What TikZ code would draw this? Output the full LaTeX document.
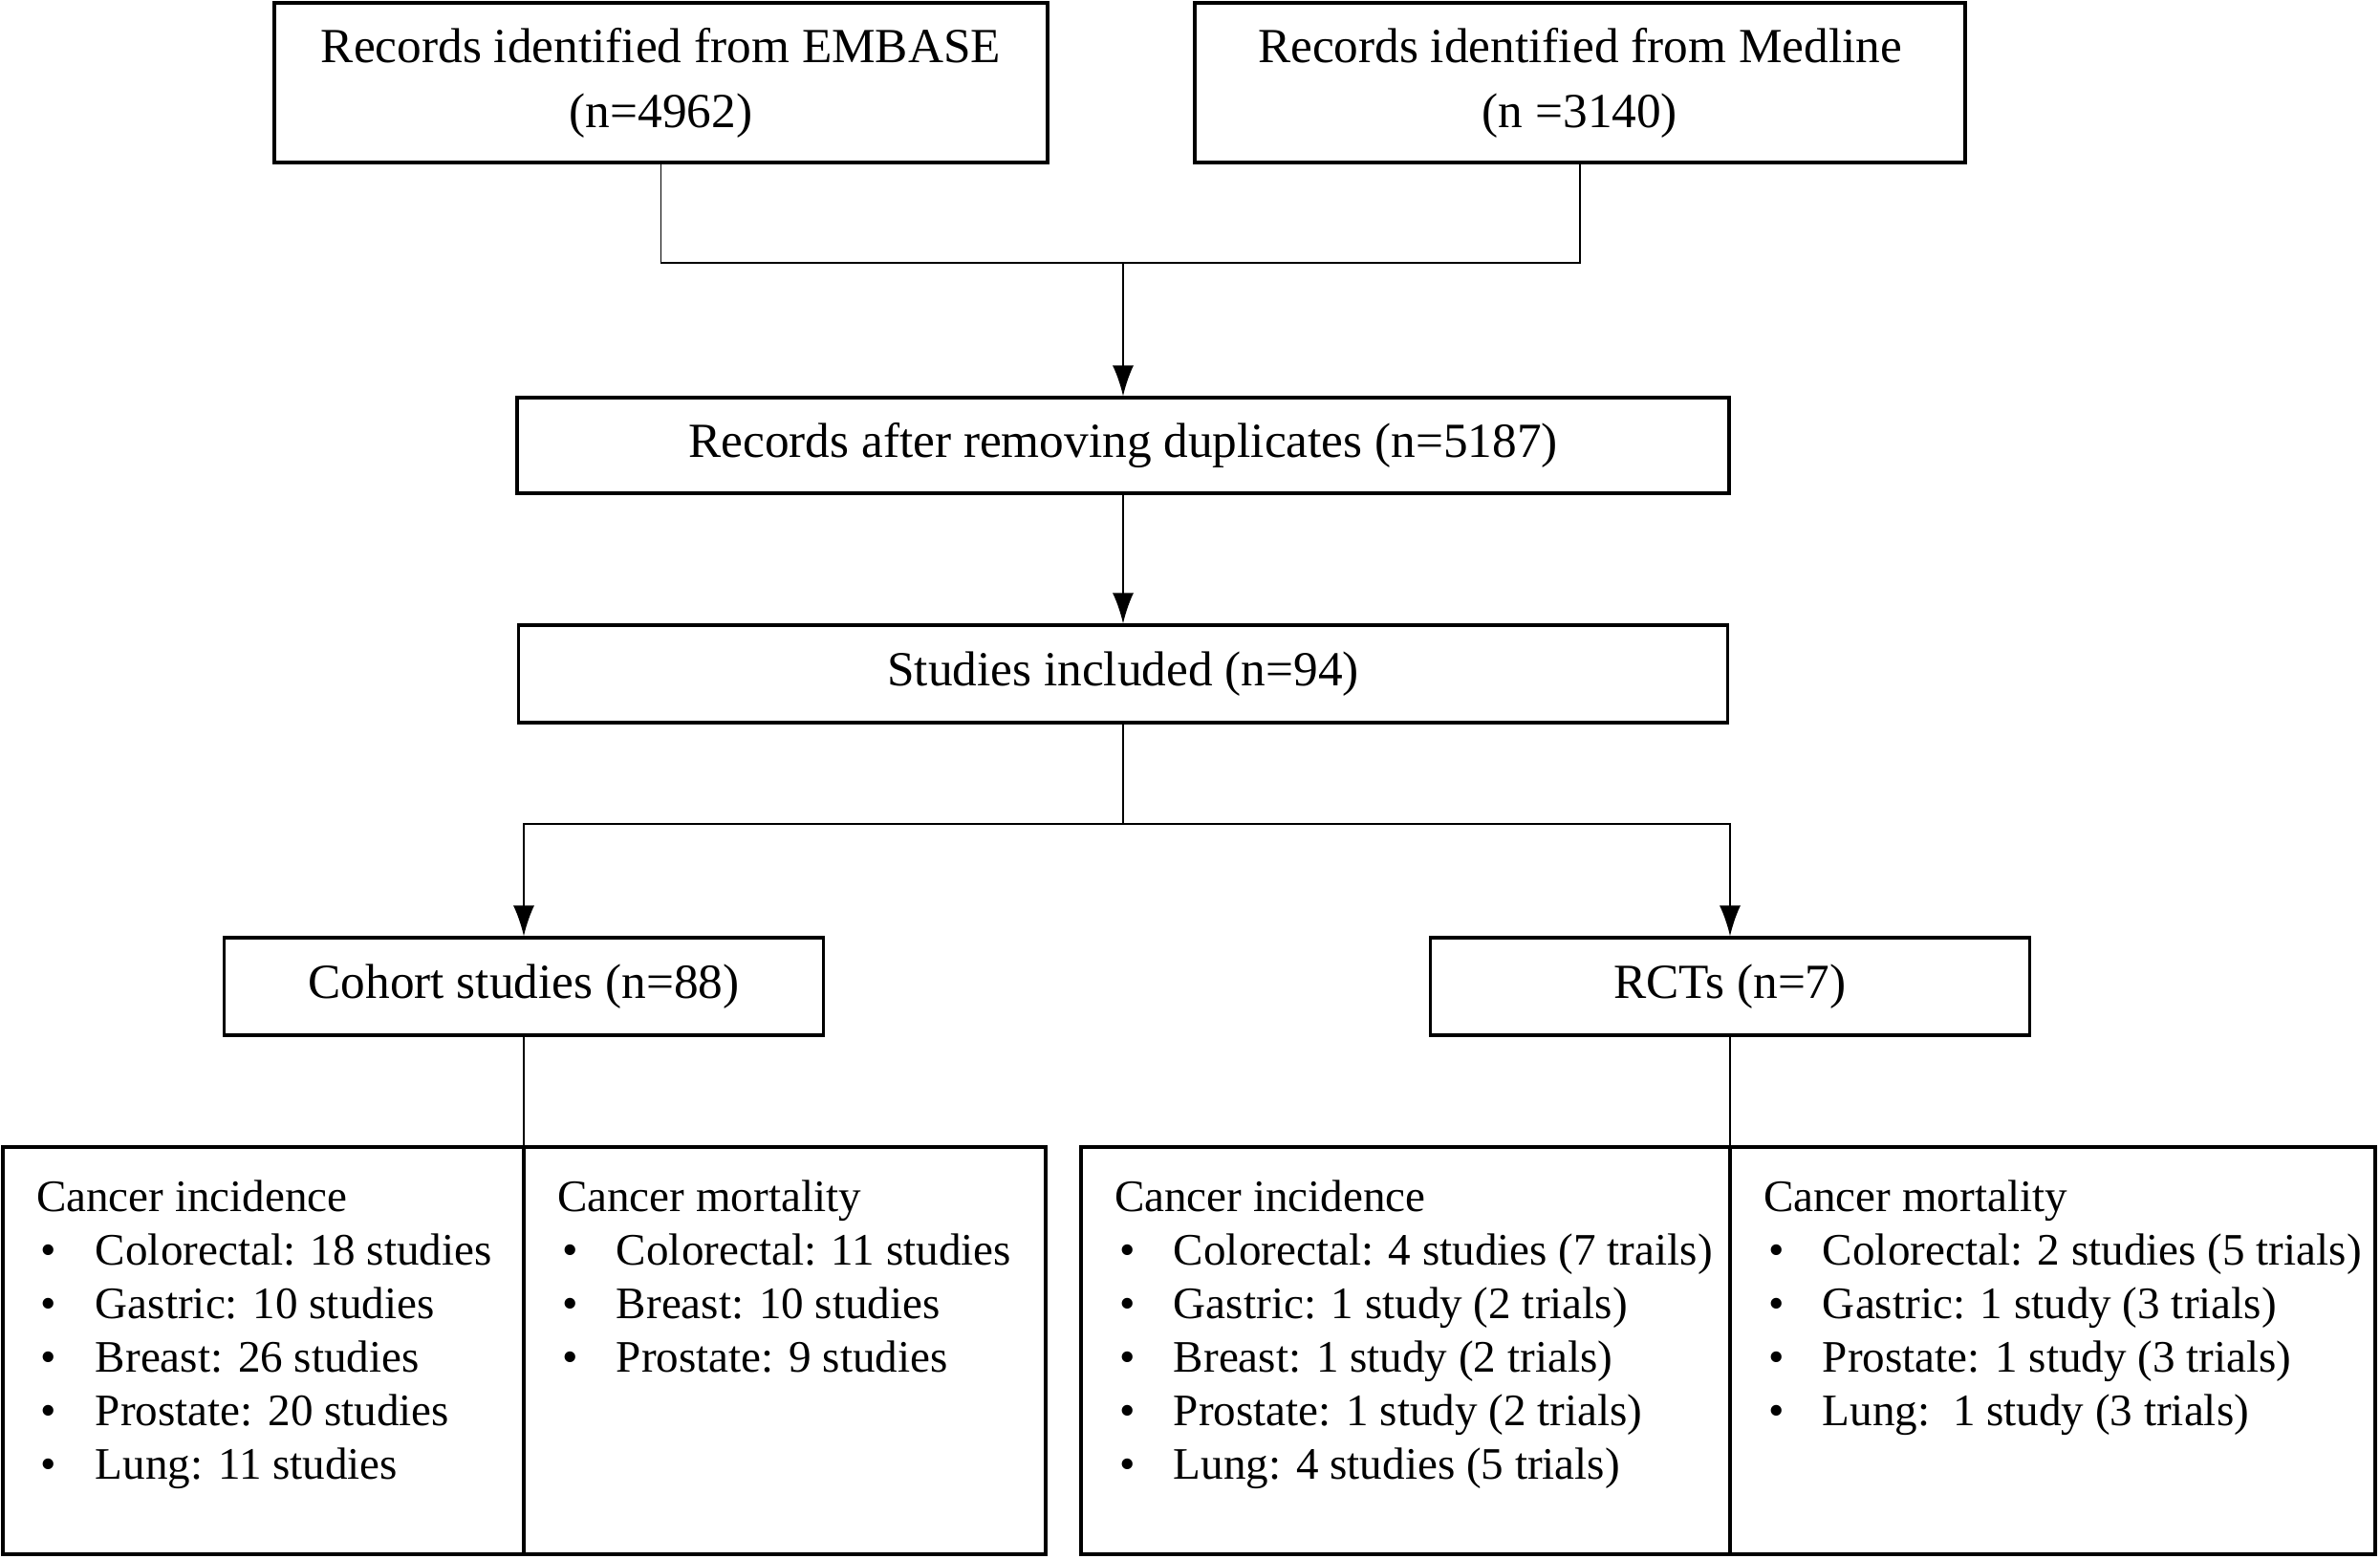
\documentclass[tikz,border=0pt]{standalone}
\usepackage{fontspec}
\setmainfont{Liberation Serif}
\usetikzlibrary{arrows.meta}

\newcommand{\topico}[1]{\mbox{\hspace*{0.05cm}\makebox[0.57cm][l]{\textbullet}#1}}

\begin{document}
\begin{tikzpicture}[
    caixa/.style={draw, line width=0.9pt, inner sep=0pt, align=center, font=\fontsize{14.6}{19.4}\selectfont},
    lista/.style={draw, line width=0.9pt, anchor=north west, inner sep=0.35cm, outer sep=0pt, font=\fontsize{13.4}{15.9}\selectfont},
    liga/.style={line width=0.5pt},
    seta/.style={liga, -{Latex[length=0.32cm, width=0.22cm]}}
]
        \useasboundingbox (0,0) rectangle (24.9,-16.3);

        % Bases de dados
        \node[caixa, minimum width=8.09cm, minimum height=1.67cm] (embase) at (6.915,-0.865) {Records identified from EMBASE\\(n=4962)};
        \node[caixa, minimum width=8.06cm, minimum height=1.67cm] (medline) at (16.53,-0.865) {Records identified from Medline\\(n =3140)};

        % Triagem
        \node[caixa, minimum width=12.68cm, minimum height=1.00cm] (records) at (11.75,-4.66) {Records after removing duplicates (n=5187)};
        \node[caixa, minimum width=12.65cm, minimum height=1.02cm] (studies) at (11.75,-7.05) {Studies included (n=94)};
        \node[caixa, minimum width=6.27cm, minimum height=1.02cm] (cohort) at (5.48,-10.32) {Cohort studies (n=88)};
        \node[caixa, minimum width=6.27cm, minimum height=1.02cm] (rct) at (18.10,-10.32) {RCTs (n=7)};

        % Caixas de resultados
        \node[lista] (incCoh) at (0.03,-12.00) {\parbox[c][3.56cm][t]{4.75cm}{\mbox{Cancer incidence}\\
            \topico{Colorectal: 18 studies}\\
            \topico{Gastric: 10 studies}\\
            \topico{Breast: 26 studies}\\
            \topico{Prostate: 20 studies}\\
            \topico{Lung: 11 studies}}};
        \node[lista] (morCoh) at (5.48,-12.00) {\parbox[c][3.56cm][t]{4.76cm}{\mbox{Cancer mortality}\\
            \topico{Colorectal: 11 studies}\\
            \topico{Breast: 10 studies}\\
            \topico{Prostate: 9 studies}}};
        \node[lista] (incRct) at (11.31,-12.00) {\parbox[c][3.56cm][t]{6.09cm}{\mbox{Cancer incidence}\\
            \topico{Colorectal: 4 studies (7 trails)}\\
            \topico{Gastric: 1 study (2 trials)}\\
            \topico{Breast: 1 study (2 trials)}\\
            \topico{Prostate: 1 study (2 trials)}\\
            \topico{Lung: 4 studies (5 trials)}}};
        \node[lista] (morRct) at (18.10,-12.00) {\parbox[c][3.56cm][t]{6.05cm}{\mbox{Cancer mortality}\\
            \topico{Colorectal: 2 studies (5 trials)}\\
            \topico{Gastric: 1 study (3 trials)}\\
            \topico{Prostate: 1 study (3 trials)}\\
            \topico{Lung:\ \ 1 study (3 trials)}}};

        % Ligacoes
        \coordinate (merge) at (11.75,-2.75);
        \coordinate (divide) at (11.75,-8.62);
        \draw[liga] (embase.south) |- (merge) -| (medline.south);
        \draw[seta] (merge) -- (records.north);
        \draw[seta] (records.south) -- (studies.north);
        \draw[liga] (studies.south) -- (divide);
        \draw[seta] (divide) -| (cohort.north);
        \draw[seta] (divide) -| (rct.north);
        \draw[liga] (cohort.south) -- (morCoh.north west);
        \draw[liga] (rct.south) -- (morRct.north west);
    \end{tikzpicture}
\end{document}
